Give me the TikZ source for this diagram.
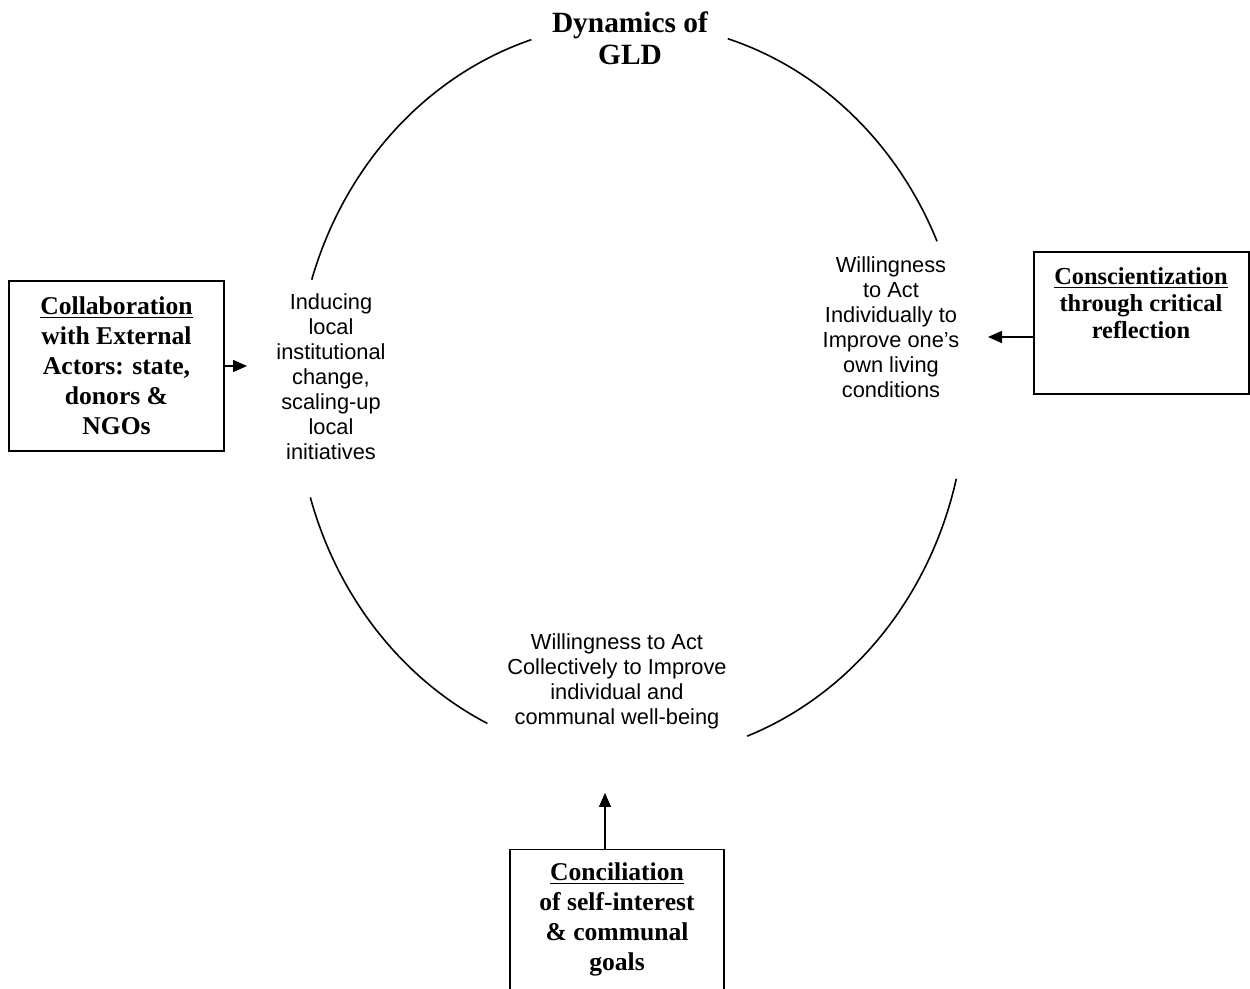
\documentclass[tikz,border=0pt]{standalone}
\usepackage{fontspec}
\setmainfont{Liberation Serif}
\setsansfont{Liberation Sans}
\usetikzlibrary{arrows.meta}
\begin{document}
\begin{tikzpicture}[x=0.5pt,y=-0.5pt,
  sanstext/.style={font=\fontsize{10.9}{12.5}\selectfont\sffamily, align=center, inner sep=0pt},
  boxtext/.style={font=\fontsize{12.8}{15}\selectfont\bfseries, align=center, inner sep=0pt},
  boxtextsmall/.style={font=\fontsize{12.2}{13.5}\selectfont\bfseries, align=center, inner sep=0pt},
  titletext/.style={font=\fontsize{14.7}{16}\selectfont\bfseries, align=center, inner sep=0pt},
  box/.style={draw, line width=0.75pt, inner sep=0pt},
  arr/.style={line width=0.75pt, -{Triangle[length=7pt,width=6pt]}},
  ring/.style={line width=0.8pt}]
\useasboundingbox (0,0) rectangle (1250,989);

% cycle arcs
\draw[ring] (631,391) ++(-162.4:335 and 368) arc[start angle=-162.4, end angle=-107.3, x radius=335, y radius=368];
\draw[ring] (631,391) ++(-73.2:335 and 368) arc[start angle=-73.2, end angle=-24.0, x radius=335, y radius=368];
\draw[ring] (631,391) ++(13.8:335 and 368) arc[start angle=13.8, end angle=69.7, x radius=335, y radius=368];
\draw[ring] (631,391) ++(115.4:335 and 368) arc[start angle=115.4, end angle=163.2, x radius=335, y radius=368];

% texts on the cycle
\node[titletext] (title) at (630,38) {Dynamics of\\GLD};
\node[sanstext] (ltext) at (331,377) {Inducing\\local\\institutional\\change,\\scaling-up\\local\\initiatives};
\node[sanstext] (rtext) at (891,327) {Willingness\\to Act\\Individually to\\Improve one’s\\own living\\conditions};
\node[sanstext] (btext) at (617,681) {Willingness to Act\\Collectively to Improve\\individual and\\communal well-being};

% boxes
\node[box, boxtext, minimum width=107.5pt, minimum height=85pt] (lbox) at (116.5,366)
  {\underline{Collaboration}\\with External\\Actors: state,\\donors \&\\NGOs};
\node[box, minimum width=107.5pt, minimum height=71pt] (rbox) at (1141.5,323) {};
\node[boxtextsmall] (rboxtext) at (1141,303) {\underline{Conscientization}\\through critical\\reflection};
\node[box, minimum width=107pt, minimum height=100pt, anchor=north] (bbox) at (617,849) {};
\node[boxtext] (bboxtext) at (617,919) {\underline{Conciliation}\\of self-interest\\\& communal\\goals};

% arrows
\coordinate (la) at (247,366);
\coordinate (ra) at (988,337);
\coordinate (ba) at (605,793);
\draw[arr] (lbox.east) -- (la);
\draw[arr] ([yshift=-7pt]rbox.west) -- (ra);
\draw[arr] ([xshift=-6pt]bbox.north) -- (ba);
\end{tikzpicture}
\end{document}
